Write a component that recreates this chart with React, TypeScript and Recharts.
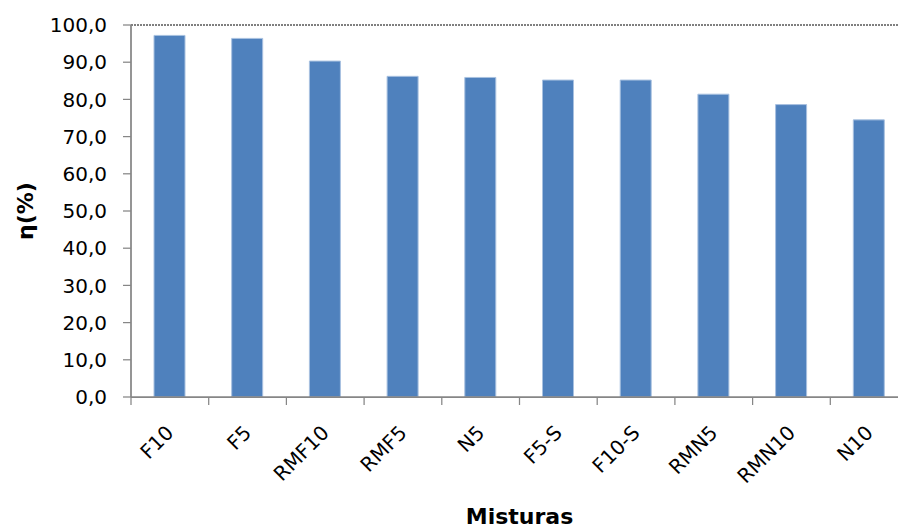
import { BarChart, Bar, XAxis, YAxis, ReferenceLine, Label } from "recharts";

const categories = ["F10", "F5", "RMF10", "RMF5", "N5", "F5-S", "F10-S", "RMN5", "RMN10", "N10"];
const efficiency = [97.2, 96.4, 90.3, 86.2, 85.9, 85.2, 85.2, 81.4, 78.6, 74.5];
const yTicks = [0, 10, 20, 30, 40, 50, 60, 70, 80, 90, 100];

const data = categories.map((name, i) => ({ name, value: efficiency[i] }));

const W = 930;
const H = 530;
const MARGIN = { top: 25, right: 22, bottom: 0, left: 0 };
const Y_AXIS_W = 131;
const X_AXIS_H = 133;
const BAND = (W - MARGIN.right - MARGIN.left - Y_AXIS_W) / categories.length;
const AXIS = "#868686";
const TICK_LEN = 8;
const FONT = "'DejaVu Sans', sans-serif";

const fmt = (v: number) => v.toFixed(1).replace(".", ",");

// category ticks sit on the band edges, labels are slanted under the bar
function CategoryTick(props: any) {
  const { x, y, payload, index } = props;
  const half = BAND / 2;
  const tx = x + 5;
  const ty = y + 29;
  return (
    <g>
      <line x1={x - half} x2={x - half} y1={y - TICK_LEN} y2={y} stroke={AXIS} strokeWidth={1.25} />
      {index === categories.length - 1 && (
        <line x1={x + half} x2={x + half} y1={y - TICK_LEN} y2={y} stroke={AXIS} strokeWidth={1.25} />
      )}
      <text
        x={tx}
        y={ty}
        transform={`rotate(-45, ${tx}, ${ty})`}
        textAnchor="end"
        fontSize={20}
        fontFamily={FONT}
        fill="#000"
      >
        {payload.value}
      </text>
    </g>
  );
}

export default function App() {
  return (
    <div style={{ position: "absolute", left: 0, top: 0, width: 898, height: 530, overflow: "hidden", background: "#fff" }}>
      <BarChart width={W} height={H} data={data} margin={MARGIN}>
        <XAxis
          dataKey="name"
          height={X_AXIS_H}
          interval={0}
          tickSize={TICK_LEN}
          tickMargin={0}
          tickLine={false}
          axisLine={{ stroke: AXIS, strokeWidth: 1.75 }}
          tick={(p: any) => <CategoryTick {...p} />}
        >
          <Label
            content={({ viewBox }: any) => (
              <text
                x={viewBox.x + viewBox.width / 2}
                y={viewBox.y + viewBox.height - 6}
                textAnchor="middle"
                fontSize={22}
                fontWeight="bold"
                fontFamily={FONT}
                fill="#000"
              >
                Misturas
              </text>
            )}
          />
        </XAxis>
        <YAxis
          width={Y_AXIS_W}
          domain={[0, 100]}
          ticks={yTicks}
          interval={0}
          tickFormatter={fmt}
          tickSize={TICK_LEN}
          tickMargin={16}
          tickLine={{ stroke: AXIS, strokeWidth: 1.25 }}
          axisLine={{ stroke: AXIS, strokeWidth: 1.75 }}
          tick={{ fontSize: 20, fontFamily: FONT, fill: "#000" }}
        >
          <Label
            content={({ viewBox }: any) => {
              const cx = 25;
              const cy = viewBox.y + viewBox.height / 2;
              return (
                <text
                  x={cx}
                  y={cy}
                  transform={`rotate(-90, ${cx}, ${cy})`}
                  textAnchor="middle"
                  dominantBaseline="central"
                  fontSize={22}
                  fontWeight="bold"
                  fontFamily={FONT}
                  fill="#000"
                >
                  η(%)
                </text>
              );
            }}
          />
        </YAxis>
        <ReferenceLine y={100} stroke="#000" strokeDasharray="2 1" strokeWidth={1} />
        <Bar
          dataKey="value"
          fill="#4F81BD"
          stroke="#A8C1E0"
          strokeWidth={1}
          barSize={31}
          isAnimationActive={false}
        />
      </BarChart>
    </div>
  );
}
